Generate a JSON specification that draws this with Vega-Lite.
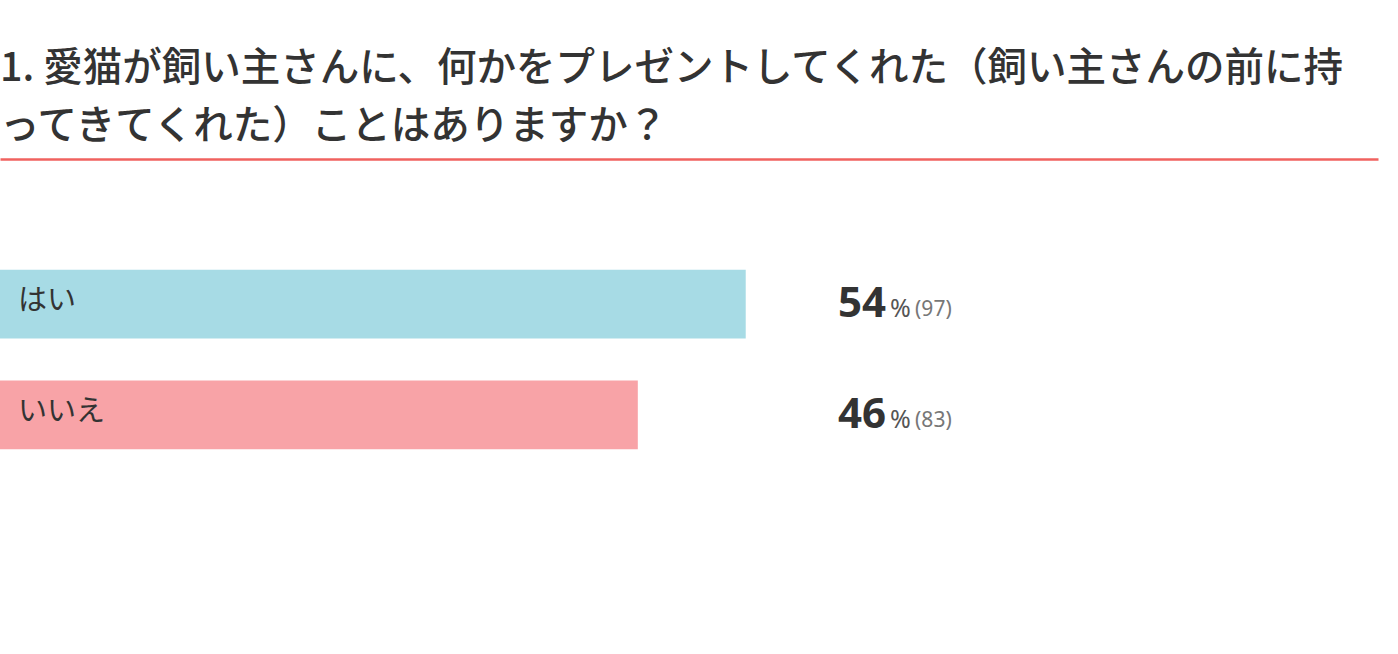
{
  "$schema": "https://vega.github.io/schema/vega-lite/v6.json",
  "width": 1378,
  "height": 401,
  "padding": {"left": 0, "top": 48, "right": 20, "bottom": 0},
  "background": "white",
  "config": {
    "view": {"stroke": null},
    "font": "Noto Sans CJK JP"
  },
  "title": {
    "text": [
      "1. 愛猫が飼い主さんに、何かをプレゼントしてくれた（飼い主さんの前に持",
      "ってきてくれた）ことはありますか？"
    ],
    "anchor": "start",
    "frame": "group",
    "font": "Noto Sans CJK JP",
    "fontSize": 39.5,
    "fontWeight": 500,
    "color": "#333333",
    "lineHeight": 58,
    "offset": 12
  },
  "data": {
    "values": [
      {"answer": "はい", "pct": 53.9, "label": "54", "count": "(97)"},
      {"answer": "いいえ", "pct": 46.1, "label": "46", "count": "(83)"}
    ]
  },
  "encoding": {
    "y": {
      "field": "answer",
      "type": "nominal",
      "sort": ["はい", "いいえ"],
      "scale": {"paddingInner": 0.38, "paddingOuter": 1.046},
      "axis": null
    }
  },
  "layer": [
    {
      "mark": {"type": "bar"},
      "encoding": {
        "x": {
          "field": "pct",
          "type": "quantitative",
          "scale": {"domain": [0, 99.6], "nice": false},
          "axis": {
            "orient": "top",
            "labels": false,
            "ticks": false,
            "grid": false,
            "title": null,
            "domainColor": "#f0625f",
            "domainWidth": 2.5
          }
        },
        "color": {
          "field": "answer",
          "type": "nominal",
          "scale": {"domain": ["はい", "いいえ"], "range": ["#a7dbe5", "#f8a3a7"]},
          "legend": null
        }
      }
    },
    {
      "mark": {"type": "text", "align": "left", "baseline": "middle", "fontSize": 29, "color": "#333333", "dy": -3},
      "encoding": {
        "x": {"datum": 1.3},
        "text": {"field": "answer"}
      }
    },
    {
      "mark": {"type": "text", "align": "left", "baseline": "middle", "fontSize": 42, "fontWeight": "bold", "color": "#333333", "font": "Noto Sans", "dy": 0},
      "encoding": {
        "x": {"datum": 60.57},
        "text": {"field": "label"}
      }
    },
    {
      "mark": {"type": "text", "align": "left", "baseline": "middle", "fontSize": 25, "color": "#555555", "font": "Noto Sans", "dy": 5},
      "encoding": {
        "x": {"datum": 64.33},
        "text": {"value": "%"}
      }
    },
    {
      "mark": {"type": "text", "align": "left", "baseline": "middle", "fontSize": 21, "color": "#777777", "font": "Noto Sans", "dy": 6},
      "encoding": {
        "x": {"datum": 66.14},
        "text": {"field": "count"}
      }
    }
  ]
}
